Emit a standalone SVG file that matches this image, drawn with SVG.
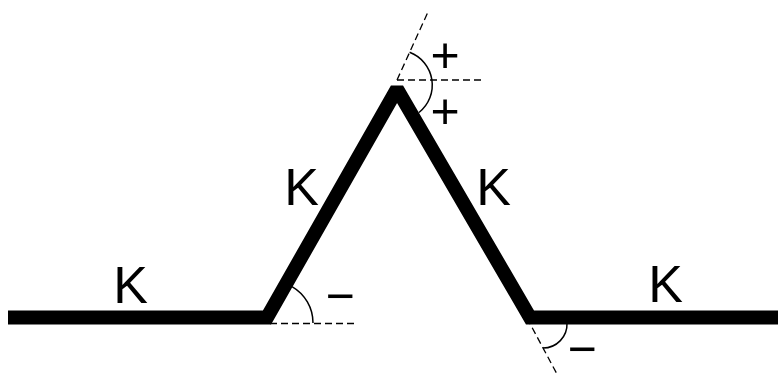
<svg xmlns="http://www.w3.org/2000/svg" width="778" height="376" viewBox="0 0 778 376">
<style>
.beam{fill:none;stroke:#000;stroke-width:14;stroke-linejoin:miter;stroke-miterlimit:1.5;stroke-linecap:butt}
.dash{fill:none;stroke:#000;stroke-width:1.3;stroke-dasharray:7 4}
.arc{fill:none;stroke:#000;stroke-width:1.5}
.lbl{font-family:"Liberation Sans",Arial,sans-serif;font-size:52px;fill:#000;text-anchor:middle}
.sign{font-family:"Liberation Sans",Arial,sans-serif;font-size:50px;fill:#000;text-anchor:middle}
</style>
<rect width="778" height="376" fill="#fff"/>
<g id="beam">
<polyline class="beam" points="8,317.5 267,317.5 397,89 530,317.5 778,317.5"/>
</g>
<g id="guides">
<line class="dash" x1="270" y1="323.5" x2="356" y2="323.5"/>
<line class="dash" x1="397" y1="80" x2="483" y2="80"/>
<line class="dash" x1="397" y1="80" x2="428" y2="12"/>
<line class="dash" x1="527" y1="318" x2="558" y2="376"/>
</g>
<g id="angles">
<path class="arc" d="M292,286.6 A42,42 0 0 1 313,323"/>
<path class="arc" d="M409.6,52.3 A35,35 0 0 1 419,112.5"/>
<path class="arc" d="M567,323 A24,24 0 0 1 543,348"/>
</g>
<g id="labels">
<text class="lbl" x="130.5" y="303">K</text>
<text class="lbl" x="301.5" y="205">K</text>
<text class="lbl" x="493.5" y="205">K</text>
<text class="lbl" x="665.5" y="302">K</text>
<text class="sign" x="445" y="72">+</text>
<text class="sign" x="445" y="128">+</text>
<text class="sign" x="340" y="313">−</text>
<text class="sign" x="582" y="366">−</text>
</g>
</svg>
